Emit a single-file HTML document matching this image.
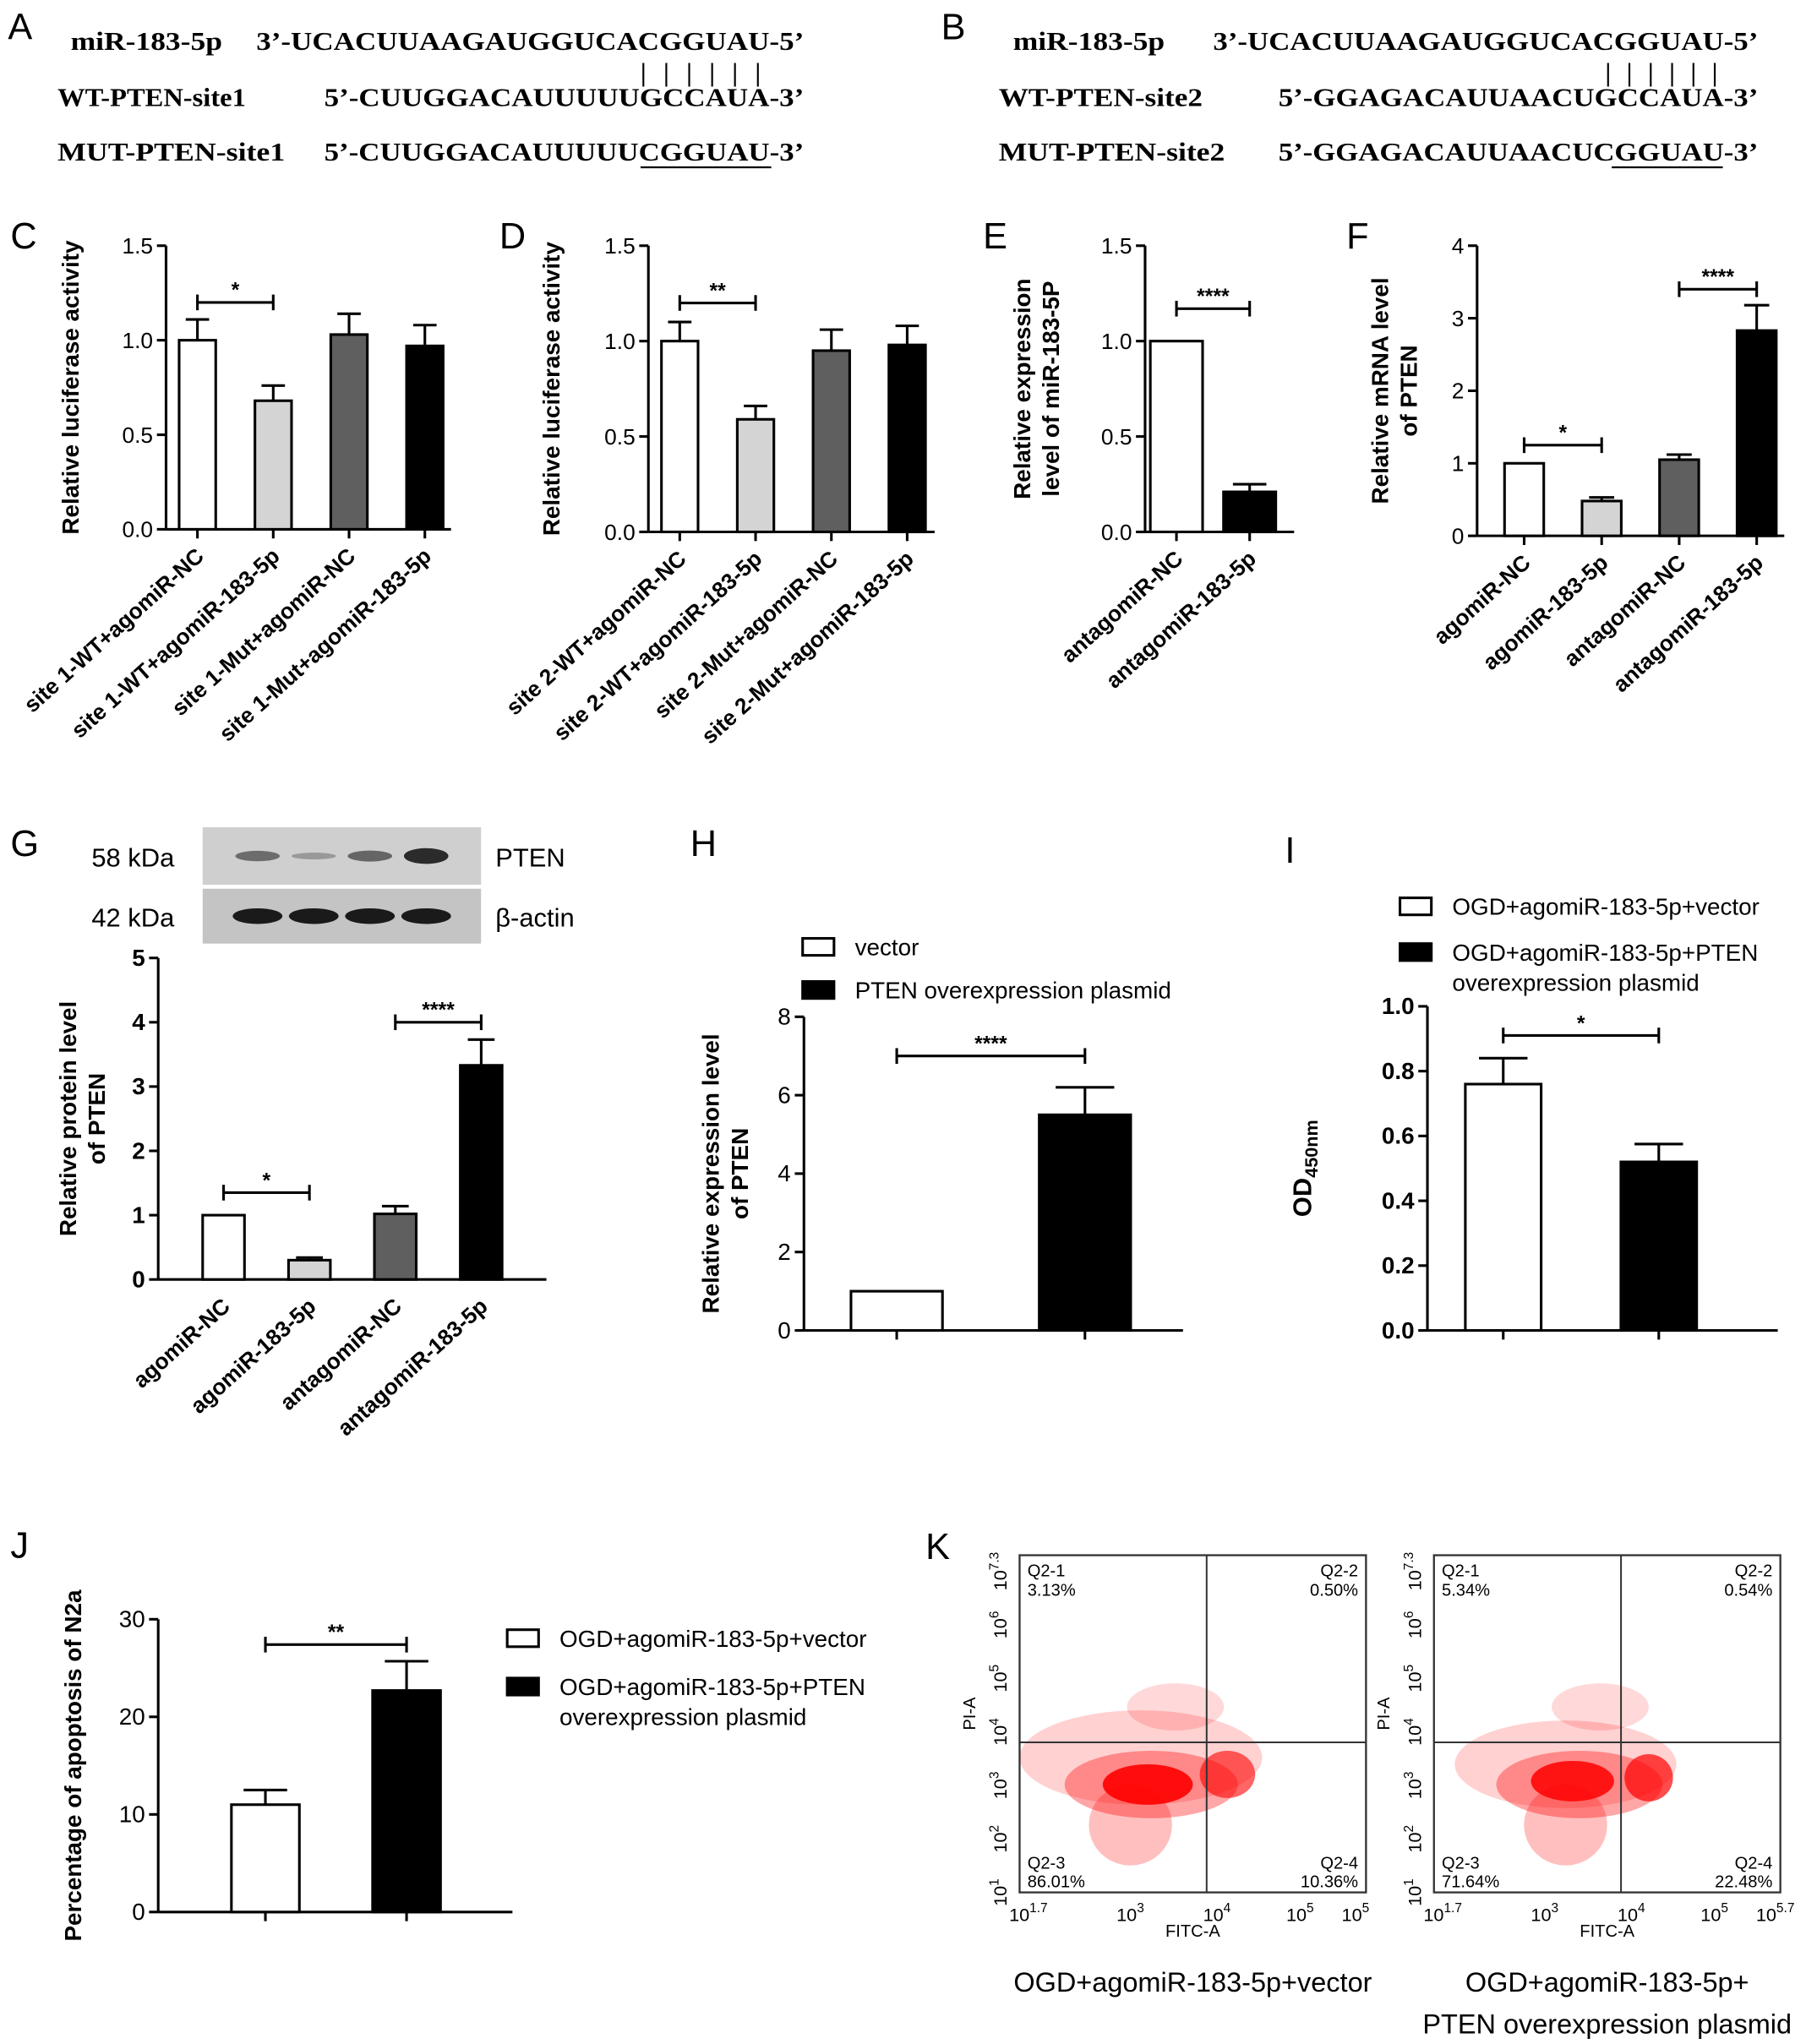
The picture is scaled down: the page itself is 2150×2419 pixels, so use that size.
<!DOCTYPE html>
<html><head><meta charset="utf-8"><style>
html,body{margin:0;padding:0;background:#fff}
svg{display:block}
text{font-family:"Liberation Sans",sans-serif;fill:#000}
.ser{font-family:"Liberation Serif",serif;font-weight:bold;font-size:20px}
</style></head><body>
<svg id="fig" width="2150" height="2419" viewBox="0 0 1390 1564" xmlns="http://www.w3.org/2000/svg">
<g>
<text x="6" y="30" font-size="28">A</text>
<text class="ser" x="54" y="38" textLength="116" lengthAdjust="spacingAndGlyphs">miR-183-5p</text>
<text class="ser" x="196" y="38" textLength="419" lengthAdjust="spacingAndGlyphs">3’-UCACUUAAGAUGGUCACGGUAU-5’</text>
<text class="ser" x="490" y="62" font-size="16" font-weight="normal" textLength="92" lengthAdjust="spacing">| | | | | |</text>
<text class="ser" x="44" y="81" textLength="144" lengthAdjust="spacingAndGlyphs">WT-PTEN-site1</text>
<text class="ser" x="248" y="81" textLength="367" lengthAdjust="spacingAndGlyphs">5’-CUUGGACAUUUUUGCCAUA-3’</text>
<text class="ser" x="44" y="123" textLength="174" lengthAdjust="spacingAndGlyphs">MUT-PTEN-site1</text>
<text class="ser" x="248" y="123" textLength="367" lengthAdjust="spacingAndGlyphs">5’-CUUGGACAUUUUUCGGUAU-3’</text>
<line x1="490" y1="128" x2="590" y2="128" stroke="#000" stroke-width="1.5"/>
</g>
<g>
<text x="720" y="30" font-size="28">B</text>
<text class="ser" x="775" y="38" textLength="116" lengthAdjust="spacingAndGlyphs">miR-183-5p</text>
<text class="ser" x="928" y="38" textLength="417" lengthAdjust="spacingAndGlyphs">3’-UCACUUAAGAUGGUCACGGUAU-5’</text>
<text class="ser" x="1228" y="62" font-size="16" font-weight="normal" textLength="86" lengthAdjust="spacing">| | | | | |</text>
<text class="ser" x="764" y="81" textLength="156" lengthAdjust="spacingAndGlyphs">WT-PTEN-site2</text>
<text class="ser" x="978" y="81" textLength="367" lengthAdjust="spacingAndGlyphs">5’-GGAGACAUUAACUGCCAUA-3’</text>
<text class="ser" x="764" y="123" textLength="173" lengthAdjust="spacingAndGlyphs">MUT-PTEN-site2</text>
<text class="ser" x="978" y="123" textLength="367" lengthAdjust="spacingAndGlyphs">5’-GGAGACAUUAACUCGGUAU-3’</text>
<line x1="1233" y1="128" x2="1318" y2="128" stroke="#000" stroke-width="1.5"/>
</g>
<g id="charts"></g>
<g id="flow"></g>
</svg>
<script>
const NS="http://www.w3.org/2000/svg";
const root=document.getElementById('charts');
function mk(tag,attrs,parent,txt){const e=document.createElementNS(NS,tag);for(const k in attrs)e.setAttribute(k,attrs[k]);if(txt!==undefined)e.textContent=txt;(parent||root).appendChild(e);return e;}

// ---- data ----
const cCats=["site 1-WT+agomiR-NC","site 1-WT+agomiR-183-5p","site 1-Mut+agomiR-NC","site 1-Mut+agomiR-183-5p"];
const cVals=[1.0,0.68,1.03,0.97];
const cErr=[0.11,0.08,0.11,0.11];
const dCats=["site 2-WT+agomiR-NC","site 2-WT+agomiR-183-5p","site 2-Mut+agomiR-NC","site 2-Mut+agomiR-183-5p"];
const dVals=[1.0,0.59,0.95,0.98];
const dErr=[0.1,0.07,0.11,0.1];
const eCats=["antagomiR-NC","antagomiR-183-5p"];
const eVals=[1.0,0.21];
const eErr=[0,0.04];
const fCats=["agomiR-NC","agomiR-183-5p","antagomiR-NC","antagomiR-183-5p"];
const fVals=[1.0,0.48,1.05,2.83];
const fErr=[0,0.05,0.07,0.35];
const gCats=["agomiR-NC","agomiR-183-5p","antagomiR-NC","antagomiR-183-5p"];
const gVals=[1.0,0.3,1.02,3.33];
const gErr=[0,0.04,0.12,0.4];
const hVals=[1.0,5.5];
const hErr=[0,0.7];
const iVals=[0.76,0.52];
const iErr=[0.08,0.055];
const jVals=[11,22.7];
const jErr=[1.5,3.0];
const ticks15=["0.0","0.5","1.0","1.5"];
const ticks4=["0","1","2","3","4"];
const ticks5=["0","1","2","3","4","5"];
const ticks8=["0","2","4","6","8"];
const ticksI=["0.0","0.2","0.4","0.6","0.8","1.0"];
const ticks30=["0","10","20","30"];

const colors4=["#fff","#d4d4d4","#5f5f5f","#000"];
function chart(o){
  const g=mk('g',{});
  
  
  const tmin=+o.ticks[0],tmax=+o.ticks[o.ticks.length-1];
  const y=v=>o.y0-(v-tmin)/(tmax-tmin)*(o.y0-o.y1);
  const x=i=>o.xs+ i*o.step;
  mk('line',{x1:o.ax,y1:o.y1,x2:o.ax,y2:o.y0,stroke:'#000','stroke-width':2},g);
  mk('line',{x1:o.ax,y1:o.y0,x2:o.xe,y2:o.y0,stroke:'#000','stroke-width':2},g);
  o.ticks.forEach(t=>{const yy=y(+t);mk('line',{x1:o.ax-7,y1:yy,x2:o.ax,y2:yy,stroke:'#000','stroke-width':2},g);
    const tl=mk('text',{x:o.ax-10,y:yy+6,'text-anchor':'end','font-size':o.tfs||17,'font-weight':o.tb?'bold':'normal'},g,t);
    });
  o.vals.forEach((v,i)=>{
    const cx=x(i),top=y(v),err=o.err[i];
    if(err>0){const ey=y(v+err);mk('line',{x1:cx,y1:top,x2:cx,y2:ey,stroke:'#000','stroke-width':2},g);
      mk('line',{x1:cx-o.bw*0.32,y1:ey,x2:cx+o.bw*0.32,y2:ey,stroke:'#000','stroke-width':2},g);}
    const b=mk('rect',{x:cx-o.bw/2,y:top,width:o.bw,height:o.y0-top,fill:o.colors[i],stroke:'#000','stroke-width':2},g);
    
    if(o.xtick) mk('line',{x1:cx,y1:o.y0,x2:cx,y2:o.y0+7,stroke:'#000','stroke-width':2},g);
    if(o.cats){const tl=mk('text',{x:cx+6,y:o.y0+22,'text-anchor':'end','font-size':17,'font-weight':'bold',transform:`rotate(-42 ${cx+6} ${o.y0+22})`},g,o.cats[i]);
      }
  });
  [o.sig,o.sig2].forEach(sg=>{if(!sg)return;const [a,b,h,s]=sg;const sy=y(h);
    mk('line',{x1:x(a),y1:sy,x2:x(b),y2:sy,stroke:'#000','stroke-width':2},g);
    mk('line',{x1:x(a),y1:sy-6,x2:x(a),y2:sy+6,stroke:'#000','stroke-width':2},g);
    mk('line',{x1:x(b),y1:sy-6,x2:x(b),y2:sy+6,stroke:'#000','stroke-width':2},g);
    mk('text',{x:(x(a)+x(b))/2,y:sy-4,'text-anchor':'middle','font-size':16,'font-weight':'bold'},g,s);});
  const ty=(o.y0+o.y1)/2;
  o.title.forEach((t,k)=>{const tx=o.tx+k*22;const tt=mk('text',{x:tx,y:ty,'text-anchor':'middle','font-size':18,'font-weight':'bold',transform:`rotate(-90 ${tx} ${ty})`},g,t);
    });
  mk('text',{x:o.lx,y:o.ly,'font-size':28},g,o.letter);
  return g;
}
chart({name:'panel-c-chart',letter:'C',lx:8,ly:190,ax:127,xe:345,y0:405,y1:188,ticks:ticks15,vals:cVals,err:cErr,xs:151,step:58,bw:28,colors:colors4,cats:cCats,xtick:true,sig:[0,1,1.2,'*'],title:['Relative luciferase activity'],tx:60});
chart({name:'panel-d-chart',letter:'D',lx:382,ly:190,ax:496,xe:715,y0:407,y1:188,ticks:ticks15,vals:dVals,err:dErr,xs:520,step:58,bw:28,colors:colors4,cats:dCats,xtick:true,sig:[0,1,1.2,'**'],title:['Relative luciferase activity'],tx:428});
chart({name:'panel-e-chart',letter:'E',lx:752,ly:190,ax:876,xe:990,y0:407,y1:188,ticks:ticks15,vals:eVals,err:eErr,xs:900,step:56,bw:40,colors:["#fff","#000"],cats:eCats,xtick:true,sig:[0,1,1.17,'****'],title:['Relative expression','level of miR-183-5P'],tx:788});
chart({name:'panel-f-chart',letter:'F',lx:1030,ly:190,ax:1130,xe:1365,y0:410,y1:188,ticks:ticks4,vals:fVals,err:fErr,xs:1166,step:59.3,bw:30,colors:colors4,cats:fCats,xtick:true,sig:[0,1,1.25,'*'],sig2:[2,3,3.4,'****'],title:['Relative mRNA level','of PTEN'],tx:1062});
chart({name:'panel-g-chart',letter:'G',lx:8,ly:655,ax:121,xe:418,y0:979,y1:733,ticks:ticks5,vals:gVals,err:gErr,xs:171,step:65.7,bw:32,colors:colors4,cats:gCats,xtick:false,sig:[0,1,1.35,'*'],sig2:[2,3,4,'****'],title:['Relative protein level','of PTEN'],tx:58,tb:true,tfs:18});
chart({name:'panel-h-chart',letter:'H',lx:528,ly:655,ax:615,xe:905,y0:1018,y1:778,ticks:ticks8,vals:hVals,err:hErr,xs:686,step:144,bw:70,colors:["#fff","#000"],xtick:true,sig:[0,1,7,'****'],title:['Relative expression level','of PTEN'],tx:550,tfs:18});
chart({name:'panel-i-chart',letter:'I',lx:983,ly:660,ax:1092,xe:1360,y0:1018,y1:770,ticks:ticksI,vals:iVals,err:iErr,xs:1150,step:119,bw:58,colors:["#fff","#000"],xtick:true,sig:[0,1,0.91,'*'],title:[''],tx:1002,tb:true,tfs:18});
chart({name:'panel-j-chart',letter:'J',lx:8,ly:1192,ax:121,xe:392,y0:1463,y1:1239,ticks:ticks30,vals:jVals,err:jErr,xs:203,step:108,bw:52,colors:["#fff","#000"],xtick:true,sig:[0,1,27.4,'**'],title:['Percentage of apoptosis of N2a'],tx:62,tfs:18});

const od=mk('text',{x:1003,y:894,'text-anchor':'middle','font-size':20,'font-weight':'bold',transform:'rotate(-90 1003 894)'});
od.innerHTML='OD<tspan font-size="14" dy="5">450nm</tspan>';


function leg(x,y,fill,lines){const g=mk('g',{});
  mk('rect',{x:x,y:y-12,width:24,height:13,fill:fill,stroke:'#000','stroke-width':2},g);
  lines.forEach((l,k)=>mk('text',{x:x+40,y:y+1+k*23,'font-size':18},g,l));}
leg(614,730,'#fff',['vector']);leg(614,763,'#000',['PTEN overexpression plasmid']);
leg(1071,699,'#fff',['OGD+agomiR-183-5p+vector']);leg(1071,734,'#000',['OGD+agomiR-183-5p+PTEN','overexpression plasmid']);
leg(388,1259,'#fff',['OGD+agomiR-183-5p+vector']);leg(388,1296,'#000',['OGD+agomiR-183-5p+PTEN','overexpression plasmid']);

const wb=mk('g',{});
mk('rect',{x:155,y:633,width:213,height:44,fill:'#cfcfcf'},wb);
mk('rect',{x:155,y:680,width:213,height:42,fill:'#c4c4c4'},wb);
const bandI=[0.5,0.15,0.55,1.0];
bandI.forEach((v,i)=>{const cx=197+i*43;mk('ellipse',{cx:cx,cy:655,rx:17,ry:2+4*v,fill:'#222','fill-opacity':0.2+0.75*v},wb);
  mk('ellipse',{cx:cx,cy:701,rx:19,ry:6,fill:'#1a1a1a'},wb);});
mk('text',{x:70,y:663,'font-size':20},wb,'58 kDa');mk('text',{x:70,y:709,'font-size':20},wb,'42 kDa');
mk('text',{x:379,y:663,'font-size':20},wb,'PTEN');mk('text',{x:379,y:709,'font-size':20},wb,'β-actin');

const fl=document.getElementById('flow');
mk('text',{x:708,y:1193,'font-size':28},fl,'K');
function flow(x0,lab,q,blobs,title){
  const g=mk('g',{},fl);
  const w=265,h=258,y0=1190;
  blobs.forEach(b=>mk('ellipse',{cx:x0+b[0]*w,cy:y0+b[1]*h,rx:b[2]*w,ry:b[3]*h,fill:'#ff0000','fill-opacity':b[4]},g));
  mk('rect',{x:x0,y:y0,width:w,height:h,fill:'none',stroke:'#333','stroke-width':1.5},g);
  mk('line',{x1:x0+0.54*w,y1:y0,x2:x0+0.54*w,y2:y0+h,stroke:'#333','stroke-width':1.3},g);
  mk('line',{x1:x0,y1:y0+0.555*h,x2:x0+w,y2:y0+0.555*h,stroke:'#333','stroke-width':1.3},g);
  const fs=13;
  mk('text',{x:x0+6,y:y0+16,'font-size':fs},g,'Q2-1');mk('text',{x:x0+6,y:y0+31,'font-size':fs},g,q[0]);
  mk('text',{x:x0+w-6,y:y0+16,'font-size':fs,'text-anchor':'end'},g,'Q2-2');mk('text',{x:x0+w-6,y:y0+31,'font-size':fs,'text-anchor':'end'},g,q[1]);
  mk('text',{x:x0+6,y:y0+h-18,'font-size':fs},g,'Q2-3');mk('text',{x:x0+6,y:y0+h-4,'font-size':fs},g,q[2]);
  mk('text',{x:x0+w-6,y:y0+h-18,'font-size':fs,'text-anchor':'end'},g,'Q2-4');mk('text',{x:x0+w-6,y:y0+h-4,'font-size':fs,'text-anchor':'end'},g,q[3]);
  const ye=['1','2','3','4','5','6','7.3'];
  ye.forEach((e,k)=>{const yy=y0+h-k*h/6.3;const tx=x0-10;const t=mk('text',{x:tx,y:yy,'font-size':14,'text-anchor':'middle',transform:`rotate(-90 ${tx} ${yy})`},g);t.innerHTML='10<tspan dy="-6" font-size="10">'+e+'</tspan>';});
  lab.forEach((e,k)=>{const xx=x0+[0,0.31,0.56,0.8,0.96][k]*w;const t=mk('text',{x:xx-8,y:y0+h+22,'font-size':14},g);t.innerHTML='10<tspan dy="-7" font-size="10">'+e+'</tspan>';});
  mk('text',{x:x0-34,y:y0+0.47*h,'font-size':13,transform:`rotate(-90 ${x0-34} ${y0+0.47*h})`,'text-anchor':'middle'},g,'PI-A');
  mk('text',{x:x0+0.5*w,y:y0+h+34,'font-size':13,'text-anchor':'middle'},g,'FITC-A');
  title.forEach((t,k)=>mk('text',{x:x0+0.5*w,y:1524+k*32,'font-size':21,'text-anchor':'middle'},g,t));
}
flow(780,['1.7','3','4','5','5'],['3.13%','0.50%','86.01%','10.36%'],
 [[0.35,0.6,0.35,0.14,0.18],[0.38,0.68,0.25,0.1,0.35],[0.37,0.68,0.13,0.06,0.9],[0.6,0.65,0.08,0.07,0.6],[0.32,0.8,0.12,0.12,0.25],[0.45,0.45,0.14,0.07,0.15]],
 ['OGD+agomiR-183-5p+vector']);
flow(1097,['1.7','3','4','5','5.7'],['5.34%','0.54%','71.64%','22.48%'],
 [[0.38,0.62,0.32,0.13,0.18],[0.42,0.68,0.24,0.1,0.35],[0.4,0.67,0.12,0.06,0.85],[0.62,0.66,0.07,0.07,0.7],[0.38,0.8,0.12,0.12,0.25],[0.48,0.45,0.14,0.07,0.15]],
 ['OGD+agomiR-183-5p+','PTEN overexpression plasmid']);
</script>
</body></html>
